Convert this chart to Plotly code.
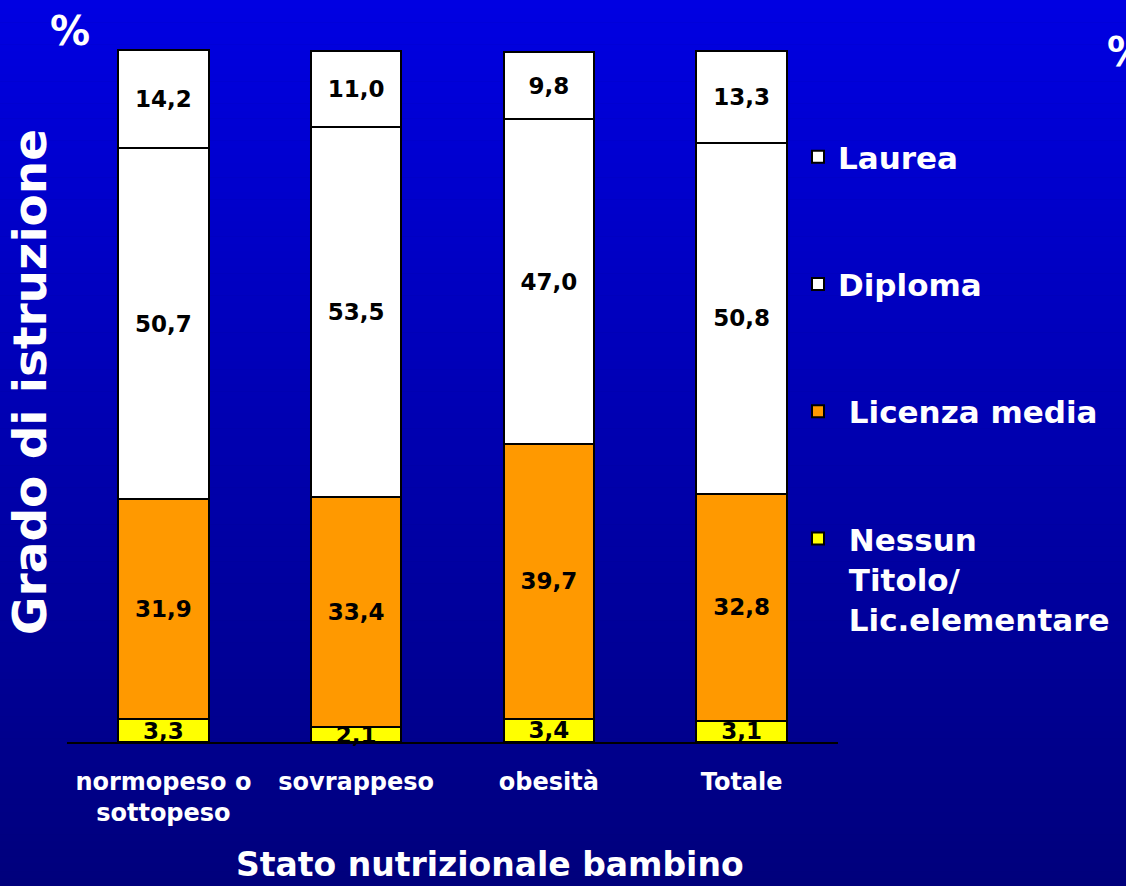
import plotly.graph_objects as go

# categories and stacked series (percentages)
categories = ["normopeso o<br>sottopeso", "sovrappeso", "obesità", "Totale"]
nessun = [3.3, 2.1, 3.4, 3.1]
licenza = [31.9, 33.4, 39.7, 32.8]
diploma = [50.7, 53.5, 47.0, 50.8]
laurea = [14.2, 11.0, 9.8, 13.3]

series = [
    (" Nessun<br> Titolo/<br> Lic.elementare", nessun, "#FFFF00", 4),
    (" Licenza media", licenza, "#FF9900", 3),
    ("Diploma", diploma, "#FFFFFF", 2),
    ("Laurea", laurea, "#FFFFFF", 1),
]

FONT = "DejaVu Sans"
W, H = 1126, 886
L, R, T, B = 67, 287, 49, 144
pw, ph = W - L - R, H - T - B


def px_x(x):
    return (x - L) / pw


def px_y(y):
    return (H - B - y) / ph


fig = go.Figure()
for i, (name, vals, color, rank) in enumerate(series):
    fig.add_trace(go.Bar(
        x=categories, y=vals, name=name, legendgroup=str(i), legendrank=rank,
        marker=dict(color=color, line=dict(color="black", width=2)),
        width=0.47,
        texttemplate="%{y:.1f}", textposition="inside", insidetextanchor="middle",
        textangle=0, constraintext="none", cliponaxis=False,
        textfont=dict(family=FONT, size=23, color="black", weight="bold"),
    ))

# vertical blue gradient background
shapes = []
n = 120
top_c, bot_c = 226, 124
for k in range(n):
    y0 = k * H / n
    y1 = (k + 1) * H / n + 0.5
    b = round(top_c + (bot_c - top_c) * k / (n - 1))
    shapes.append(dict(type="rect", xref="paper", yref="paper", layer="below",
                       x0=px_x(-20), x1=px_x(W + 20), y0=px_y(y1), y1=px_y(y0),
                       line=dict(width=0), fillcolor=f"rgb(0,0,{b})"))

white = dict(family=FONT, color="white", weight="bold")
annotations = [
    dict(text="Grado di istruzione", textangle=-90, x=px_x(29), y=px_y(382),
         xanchor="center", yanchor="middle",
         xref="paper", yref="paper", showarrow=False, font=dict(size=47, **white)),
    dict(text="Stato nutrizionale bambino", x=px_x(491), y=px_y(864),
         xanchor="center", yanchor="middle",
         xref="paper", yref="paper", showarrow=False, font=dict(size=33, **white)),
    dict(text="%", x=px_x(70), y=px_y(31), xanchor="center", yanchor="middle",
         xref="paper", yref="paper", showarrow=False, font=dict(size=40, **white)),
    dict(text="%", x=px_x(1106), y=px_y(52), xanchor="left", yanchor="middle",
         xref="paper", yref="paper", showarrow=False, font=dict(size=40, **white)),
]

fig.update_layout(
    width=W, height=H,
    margin=dict(l=L, r=R, t=T, b=B),
    barmode="stack",
    separators=",.",
    paper_bgcolor="rgb(0,0,128)",
    plot_bgcolor="rgba(0,0,0,0)",
    shapes=shapes,
    annotations=annotations,
    showlegend=True,
    legend=dict(
        x=px_x(798), y=px_y(130), xanchor="left", yanchor="top",
        traceorder="grouped", tracegroupgap=84, valign="top",
        font=dict(size=31, **white), bgcolor="rgba(0,0,0,0)",
    ),
)
fig.update_xaxes(
    showline=True, linecolor="black", linewidth=2, showgrid=False,
    ticks="", ticklabelstandoff=17,
    tickfont=dict(size=24, **white),
)
fig.update_yaxes(range=[0, 100.3], visible=False, showgrid=False)

fig.write_html("out.html", config={"displayModeBar": False},
               post_script="document.body.style.margin='0';")
